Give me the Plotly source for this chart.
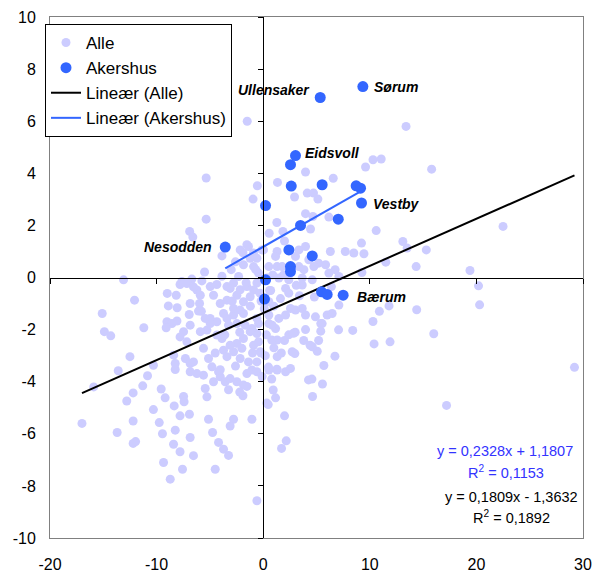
import plotly.graph_objects as go

# --- data --------------------------------------------------------------
alle_x = [-9.7, -1.5, -5.35, -0.55, 1.34, -0.95, 2.94, -5.35, -6.9, -6.6,
          0.56, 1.28, 1.85, -2.16, -1.38, -0.91, 0.03, -3.87, -3.87, -5.5,
          -13.1, -1.53, -1.22, -0.59, -0.12, -1.85, -0.9, -0.44, -2.31, -2.78,
          -7.63, -6.69, -5.75, -4.97, -3.4, -2.16, -1.53, -0.59, -2.6, -1.9,
          13.4, 15.8, 10.3, 11.07, 9.6, 3.97, 6.57, 4.13, 5.13, 3.97,
          4.66, 6.16, 4.44, 10.6, 9.22, 13.1, 15.3, 11.5, 14.35, 7.7,
          8.5, 9.45, 6.3, 5.2, 5.85, 4.75, 3.97, 3.35, 1.3, 1.3,
          22.5, 19.4, 20.2, 13.5, 6.75, 9.26, 4.72, 1.16, 1.78, 0.53,
          3.03, 3.35, 3.82, 4.28, 3.66, 4.6, 6.16, 7.1, 1.47, 2.4,
          0.37, 2.0, 20.3, 16.0, 29.2, 17.2, 10.9, 11.8, 10.3, 8.4,
          10.4, 11.9, 7.07, 6.73, 5.69, 4.25, 4.57, 5.56, 4.63, 14.4,
          2.0, 2.16, 1.72, 0.94, 1.16, 0.47, 0.53, 1.31, 2.1, 2.56,
          5.07, 4.6, 2.72, 2.97, 1.31, 1.0, 1.31, 5.2, 3.8, 4.4,
          2.4, 3.0, 3.97, 5.4, 5.4, 1.16, 1.47, 0.53, 2.1, 3.03,
          3.66, 3.97, 4.9, 5.53, 6.0, 6.47, 7.1, 6.4, 2.1, 3.66,
          4.8, 1.62, 0.53, 2.56, 3.4, 0.53, 0.84, 0.3, 0.2, 0.8,
          -15.1, -14.9, -14.3, -12.07, -11.2, -12.5, -13.6, -15.9, -12.2, -12.8,
          -11.3, -10.85, -10.3, -9.0, -8.16, -8.9, -8.07, -9.03, -8.56, -8.09,
          -9.1, -6.94, -6.07, -5.97, -7.8, -7.16, -7.47, -9.57, -9.2, -10.3,
          -12.2, -13.7, -9.75, -9.45, -8.25, -8.35, -7.47, -7.42, -7.8, -6.92,
          -6.85, -8.41, -7.8, -6.54, -9.35, -12.2, -11.97, -8.72, -7.57, -4.5,
          -3.25, -4.19, -3.72, -0.59, -1.06, -2.78, -3.1, -5.13, -4.75, -17.0,
          -8.25, -8.25, -8.4, -7.3, -6.85, -6.54, -6.22, -6.85, -5.6, -4.66,
          -5.44, -5.28, -4.81, -4.19, -4.03, -3.56, -3.1, -2.47, -1.85, -1.53,
          -1.06, -0.59, -3.72, -2.78, -3.4, -2.16, -1.38, -0.59, -0.28, -2.47,
          -1.85, -1.22, -0.59, -3.25, -2.47, -4.35, -5.28, -5.9, -6.85, -5.6,
          -5.13, -4.66, -4.03, -3.4, -2.47, -1.85, -1.22, -0.9, -3.72, -2.78,
          -1.85, -0.59, -4.97, -3.1, -6.85, -6.22, -7.8, -7.16, -6.54, -4.35,
          -5.9, -3.4, -2.78, -2.16, -1.69, -1.06, -0.44, -0.44, -0.9, -2.0,
          -3.1, -3.87, -4.35, -4.97, -5.44, 0.34, 0.5, 1.28, 2.0, 2.84,
          -1.9, -1.53, -3.25, -4.03, -2.2, -1.2, 0.1, -0.3, 0.6, -0.2,
          -0.2, 0.7, 1.0, -1.6, -2.9, -3.6, -2.2, -1.0, 1.7, 2.4,
          3.1, -0.7, -3.0, 0.9, 1.9, -4.5, -5.8, -2.6, 0.8, -0.1]
alle_y = [8.77, 6.0, 3.82, 3.52, 3.65, 3.01, 3.09, 2.24, 1.77, 1.55,
          1.70, 2.11, 1.77, 1.06, 1.19, 0.94, 1.06, 0.83, 0.05, 0.21,
          -0.09, 1.26, 0.74, 0.74, 1.06, 0.49, 0.42, 0.17, 0.04, -0.21,
          -0.15, -0.06, -0.13, -0.35, -0.35, -0.47, -0.35, -0.21, 0.6, 0.95,
          5.8, 4.16, 4.52, 4.55, 4.24, 4.05, 3.81, 3.24, 3.01, 2.45,
          2.34, 2.32, 1.86, 1.8, 1.32, 1.38, 1.06, 0.59, 0.42, 1.0,
          0.94, 0.91, 1.0, 0.55, 0.49, 0.42, 1.19, 1.06, 1.0, 0.42,
          1.96, 0.27, -0.32, 1.13, 0.3, 0.19, 3.24, 0.81, 0.42, 0.42,
          0.81, 0.42, 0.3, 0.68, -0.02, -0.09, 0.17, 0.04, -0.02, -0.09,
          -0.02, 1.4, -1.05, -2.16, -3.45, -4.91, -1.3, -1.09, -1.69, -2.03,
          -2.55, -2.47, -2.01, -3.02, -3.38, -3.93, -3.9, -4.09, -4.57, -1.24,
          -5.31, -6.27, -6.56, -4.32, -4.62, -4.88, -3.55, -3.55, -3.62, -3.49,
          -2.83, -2.66, -2.85, -2.92, -3.04, -2.7, -2.4, -2.42, -2.42, -2.6,
          -2.2, -2.1, -2.0, -2.06, -1.77, -1.96, -1.57, -1.77, -1.44, -1.25,
          -1.19, -1.44, -1.51, -1.77, -1.44, -1.38, -1.06, -0.35, -0.42, -0.29,
          -0.75, -0.81, -0.93, -1.19, -0.7, -1.44, -1.83, -2.2, -3.0, -3.9,
          -1.38, -2.08, -2.24, -0.87, -1.93, -3.04, -3.58, -4.2, -4.43, -4.74,
          -4.16, -3.77, -3.37, -0.61, -0.68, -1.09, -1.16, -1.7, -1.77, -1.67,
          -1.93, -1.42, -1.29, -1.0, -2.28, -2.47, -2.08, -4.28, -4.62, -5.07,
          -5.51, -5.95, -5.57, -6.0, -5.86, -4.93, -4.57, -4.77, -5.31, -5.25,
          -6.14, -6.4, -6.69, -6.84, -7.1, -6.37, -6.3, -7.74, -7.36, -7.36,
          -6.83, -6.33, -6.59, -8.57, -5.44, -5.44, -5.7, -5.44, -5.95, -5.6,
          -3.53, -3.3, -2.98, -3.11, -3.3, -3.24, -3.69, -3.62, -3.75, -4.0,
          -4.26, -4.58, -3.43, -3.62, -3.81, -4.0, -3.88, -4.0, -4.13, -3.69,
          -3.55, -3.62, -2.79, -2.85, -3.04, -3.11, -3.24, -3.24, -2.85, -2.53,
          -2.34, -2.08, -2.15, -1.83, -1.77, -1.7, -2.02, -2.08, -1.83, -2.72,
          -3.11, -0.68, -1.0, -0.87, -0.68, -0.93, -0.74, -0.48, -1.38, -1.44,
          -1.38, -1.57, -1.57, -0.42, -1.0, -0.48, -0.27, -0.23, -0.36, -0.27,
          -0.68, -1.57, -1.19, -1.25, -1.83, -1.96, -1.77, -2.47, -2.6, -2.72,
          -2.6, -2.34, -2.21, -1.77, -1.57, -4.82, -3.44, -3.52, -2.42, -2.14,
          -4.54, -4.18, -4.31, -3.54, -4.4, -1.1, -1.2, -0.6, -0.5, -2.9,
          -0.9, -0.5, -1.1, -0.2, -0.9, -2.2, -2.1, -2.9, -2.9, -0.6,
          -0.3, 0.3, 0.3, 0.1, 0.1, -2.9, -1.3, -3.4, -2.4, -3.8]

akershus_x = [9.35, 5.35, 3.03, 2.56, 2.63, 5.53, 8.72, 9.13, 9.22, 0.22, 3.5,
              7.04, -3.56, 2.41, 4.6, 2.56, 2.56, 0.22, 0.12, 5.47, 6.0, 7.5]
akershus_y = [7.33, 6.91, 4.68, 4.33, 3.51, 3.56, 3.52, 3.43, 2.86, 2.76, 2.0,
              2.24, 1.17, 1.06, 0.83, 0.42, 0.23, -0.09, -0.83, -0.55, -0.65, -0.68]
akershus_names = ["Sørum", "Ullensaker", "Eidsvoll", "", "", "", "", "", "Vestby", "", "",
                  "", "Nesodden", "", "", "", "", "", "", "", "", "Bærum"]

# trendline coefficients as printed on the chart: slope, intercept, R²
fit_alle = (0.1809, -1.3632, 0.1892)
fit_akershus = (0.2328, 1.1807, 0.1153)

x_ticks = [-20, -10, 0, 10, 20, 30]
y_ticks = [-10, -8, -6, -4, -2, 0, 2, 4, 6, 8, 10]

FONT = "Liberation Sans, Arial, sans-serif"
LIGHT = "#ccccff"
BLUE = "#3366ff"


def trend(xs, coef):
    x0, x1 = min(xs), max(xs)
    return [x0, x1], [coef[0] * x0 + coef[1], coef[0] * x1 + coef[1]]


fig = go.Figure()
fig.add_trace(go.Scatter(x=alle_x, y=alle_y, mode="markers", name="Alle",
                         marker=dict(color=LIGHT, size=9), legendrank=1))
tx, ty = trend(alle_x, fit_alle)
fig.add_trace(go.Scatter(x=tx, y=ty, mode="lines", name="Lineær (Alle)",
                         line=dict(color="black", width=2), legendrank=3))
tx, ty = trend(akershus_x, fit_akershus)
fig.add_trace(go.Scatter(x=tx, y=ty, mode="lines", name="Lineær (Akershus)",
                         line=dict(color=BLUE, width=2), legendrank=4))
fig.add_trace(go.Scatter(x=akershus_x, y=akershus_y, mode="markers", name="Akershus",
                         marker=dict(color=BLUE, size=11), legendrank=2))
# empty trace so the crossing axes (through 0,0) get drawn
fig.add_trace(go.Scatter(x=[], y=[], xaxis="x2", yaxis="y2", showlegend=False,
                         hoverinfo="skip"))

# point labels
offsets = {"Sørum": (9, 0, "left"), "Ullensaker": (-8, 7, "right"),
           "Eidsvoll": (7, 3, "left"), "Vestby": (10, -1, "left"),
           "Nesodden": (-11, 0, "right"), "Bærum": (12, -2, "left")}
for x, y, name in zip(akershus_x, akershus_y, akershus_names):
    if not name:
        continue
    dx, dy, anchor = offsets[name]
    fig.add_annotation(x=x, y=y, text=f"<b><i>{name}</i></b>", showarrow=False,
                       xanchor=anchor, yanchor="middle", xshift=dx, yshift=dy,
                       font=dict(family=FONT, size=14, color="black"))

# trendline equations
eqs = [
    (f"y = {fit_akershus[0]:.4f}x + {fit_akershus[1]:.4f}".replace(".", ","), 0.854, 0.1676, "#3333ff"),
    (f"R<sup>2</sup> = {fit_akershus[2]:.4f}".replace(".", ","), 0.855, 0.127, "#3333ff"),
    (f"y = {fit_alle[0]:.4f}x - {abs(fit_alle[1]):.4f}".replace(".", ","), 0.865, 0.079, "black"),
    (f"R<sup>2</sup> = {fit_alle[2]:.4f}".replace(".", ","), 0.866, 0.0397, "black"),
]
for txt, px, py, col in eqs:
    fig.add_annotation(x=px, y=py, xref="paper", yref="paper", text=txt,
                       showarrow=False, xanchor="center", yanchor="middle",
                       font=dict(family=FONT, size=14.5, color=col))

frame = dict(showline=True, linecolor="#808080", linewidth=1, mirror=True,
             showgrid=False, zeroline=False, ticks="", automargin=False,
             tickfont=dict(family=FONT, size=16, color="black"))
cross = dict(showline=True, linecolor="black", linewidth=1, showgrid=False,
             zeroline=False, ticks="outside", ticklen=5, tickcolor="black",
             tickwidth=1, showticklabels=False, anchor="free")

# the page body adds an 8px offset, so the figure is 8px smaller than the window
fig.update_layout(
    width=594, height=564, autosize=False,
    margin=dict(l=42, r=19, t=9, b=34),
    plot_bgcolor="white", paper_bgcolor="white",
    font=dict(family=FONT, color="black"),
    xaxis=dict(range=[-20, 30], tickvals=x_ticks, ticktext=[str(v) for v in x_ticks],
               ticklabelstandoff=12, **frame),
    yaxis=dict(range=[-10, 10], tickvals=y_ticks, ticktext=[str(v) for v in y_ticks],
               ticklabelstandoff=10, **frame),
    xaxis2=dict(range=[-20, 30], tickvals=x_ticks, overlaying="x", side="bottom",
                position=0.5, **cross),
    yaxis2=dict(range=[-10, 10], tickvals=y_ticks, overlaying="y", side="left",
                position=0.4, **cross),
    legend=dict(x=-0.0094, y=0.9866, xanchor="left", yanchor="top",
                bgcolor="white", bordercolor="black", borderwidth=1,
                font=dict(family=FONT, size=17, color="black")),
    showlegend=True,
)

fig.write_html("out.html")
